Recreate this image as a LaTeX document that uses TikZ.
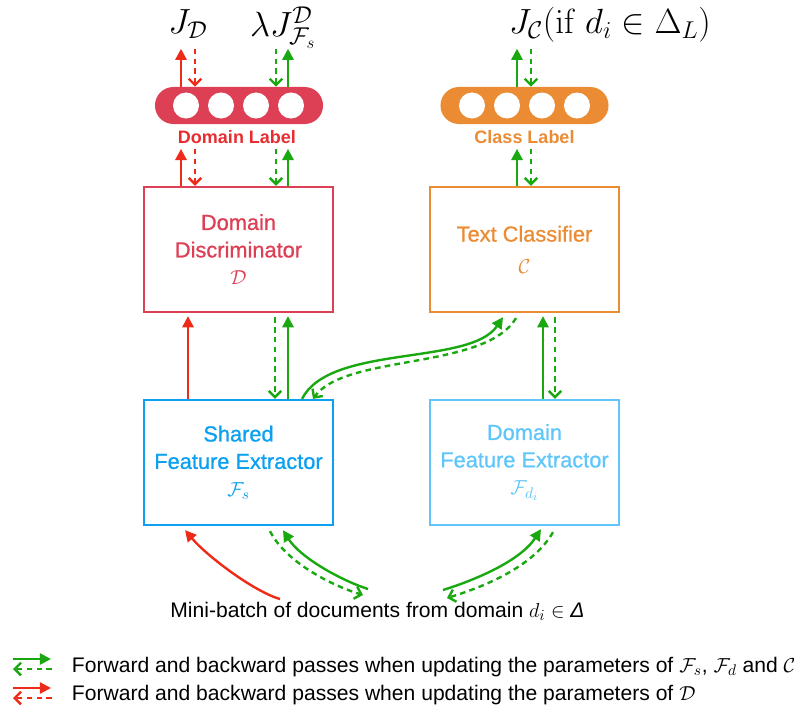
\documentclass[tikz,border=0pt]{standalone}
\usepackage[no-math]{fontspec}
\setmainfont{Liberation Sans}
\newfontfamily\modfont[FakeBold=0.9]{Liberation Sans}
\usetikzlibrary{arrows.meta,calc}

\definecolor{discred}{RGB}{221,64,85}
\definecolor{tagred}{RGB}{232,44,48}
\definecolor{passred}{RGB}{238,42,24}
\definecolor{clsorange}{RGB}{235,140,52}
\definecolor{passgreen}{RGB}{26,168,16}
\definecolor{sharedblue}{RGB}{12,160,240}
\definecolor{privblue}{RGB}{96,198,250}

\begin{document}
\begin{tikzpicture}[x=0.025cm, y=-0.025cm,
        module/.style={draw, line width=1.6pt, minimum width=4.725cm, minimum height=3.125cm,
            align=center, font=\modfont\fontsize{15.5}{19.5}\selectfont},
        pill/.style={rectangle, rounded corners=0.46cm, minimum width=4.2cm, minimum height=0.925cm},
        unit/.style={circle, fill=white, minimum size=0.65cm, inner sep=0pt},
        tag/.style={font=\bfseries\fontsize{12.8}{15}\selectfont},
        loss/.style={font=\fontsize{24}{28}\selectfont, anchor=base, inner sep=0.5pt},
        note/.style={font=\fontsize{15}{18}\selectfont, anchor=base west},
        fwd/.style={line width=1.7pt, -{Triangle[length=8pt,width=8pt]}},
        bwd/.style={line width=1.7pt, dash pattern=on 4pt off 3pt,
            -{Straight Barb[length=4.5pt,width=9pt]}}]
    \useasboundingbox (0,0) rectangle (794,710);

    % output layers
    \node[pill, fill=discred] (dlabel) at (239,105.5) {};
    \foreach \i in {1,...,4}
        \node[unit] (dl\i) at (151+35*\i,105.5) {};
    \node[tag, text=tagred] (dltag) at (237,137) {Domain Label};

    \node[pill, fill=clsorange] (clabel) at (524.5,105.5) {};
    \foreach \i in {1,...,4}
        \node[unit] (cl\i) at (437+35*\i,105.5) {};
    \node[tag, text=clsorange] (cltag) at (524.5,137) {Class Label};

    % losses
    \node[loss] (jd) at (188,33) {$J_{\mathcal{D}}$};
    \node[loss] (jfs) at (283,36) {$\lambda J^{\mathcal{D}}_{\mathcal{F}_s}$};
    \node[loss] (jc) at (610,33) {$J_{\mathcal{C}}(\mathrm{if}\ d_i\in\Delta_L)$};

    % modules
    \node[module, draw=discred, text=discred] (ddisc) at (238.5,249.5)
        {Domain\\Discriminator\\$\mathcal{D}$};
    \node[module, draw=clsorange, text=clsorange] (tcls) at (524.5,249.5)
        {Text Classifier\\[3pt]$\mathcal{C}$};
    \node[module, draw=sharedblue, text=sharedblue] (sfe) at (238.5,462.5)
        {Shared\\Feature Extractor\\$\mathcal{F}_s$};
    \node[module, draw=privblue, text=privblue] (dfe) at (524.5,462.5)
        {Domain\\Feature Extractor\\$\mathcal{F}_{d_i}$};

    \node[font=\fontsize{15}{18}\selectfont, anchor=base] (batch) at (377.5,617)
        {Mini-batch of documents from domain $d_i\in$ {\itshape Δ}};

    % losses <-> output layers
    \draw[fwd, passred] ($(dlabel.north)+(-58,0)$) -- ($(dlabel.north)+(-58,-38)$);
    \draw[bwd, passred] ($(dlabel.north)+(-44,-38)$) -- ($(dlabel.north)+(-44,0)$);
    \draw[bwd, passgreen] ($(dlabel.north)+(37,-38)$) -- ($(dlabel.north)+(37,0)$);
    \draw[fwd, passgreen] ($(dlabel.north)+(49,0)$) -- ($(dlabel.north)+(49,-38)$);
    \draw[fwd, passgreen] ($(clabel.north)+(-7.5,0)$) -- ($(clabel.north)+(-7.5,-38)$);
    \draw[bwd, passgreen] ($(clabel.north)+(6.5,-38)$) -- ($(clabel.north)+(6.5,0)$);

    % output layers <-> modules
    \draw[fwd, passred] ($(ddisc.north)+(-57.5,0)$) -- ($(ddisc.north)+(-57.5,-37)$);
    \draw[bwd, passred] ($(ddisc.north)+(-43.5,-37)$) -- ($(ddisc.north)+(-43.5,0)$);
    \draw[bwd, passgreen] ($(ddisc.north)+(37.5,-37)$) -- ($(ddisc.north)+(37.5,0)$);
    \draw[fwd, passgreen] ($(ddisc.north)+(49.5,0)$) -- ($(ddisc.north)+(49.5,-37)$);
    \draw[fwd, passgreen] ($(tcls.north)+(-7.5,0)$) -- ($(tcls.north)+(-7.5,-37)$);
    \draw[bwd, passgreen] ($(tcls.north)+(6.5,-37)$) -- ($(tcls.north)+(6.5,0)$);

    % feature extractors <-> discriminator and classifier
    \draw[fwd, passred] ($(sfe.north)+(-50.5,0)$) -- ($(ddisc.south)+(-50.5,3)$);
    \draw[bwd, passgreen] ($(ddisc.south)+(36.5,4)$) -- ($(sfe.north)+(36.5,0)$);
    \draw[fwd, passgreen] ($(sfe.north)+(49.5,0)$) -- ($(ddisc.south)+(49.5,3)$);
    \draw[fwd, passgreen] ($(dfe.north)+(18.5,0)$) -- ($(tcls.south)+(18.5,3)$);
    \draw[bwd, passgreen] ($(tcls.south)+(30.5,4)$) -- ($(dfe.north)+(30.5,0)$);
    \draw[fwd, passgreen] ($(sfe.north)+(63.5,0)$)
        .. controls +(28,-55) and +(-33,49) .. ($(tcls.south)+(-21.5,4)$);
    \draw[bwd, passgreen] ($(tcls.south)+(-8.5,5)$)
        .. controls +(-31,52) and +(32,-45) .. ($(sfe.north)+(74.5,0)$);

    % mini-batch -> feature extractors
    \draw[fwd, passred] ($(batch.base)+(-97.5,-18)$)
        .. controls +(-25,-7) and +(23,27) .. ($(sfe.south)+(-53.5,4)$);
    \draw[fwd, passgreen] ($(batch.base)+(-9.5,-28)$)
        .. controls +(-28,-9) and +(17,27) .. ($(sfe.south)+(44.5,4)$);
    \draw[bwd, passgreen] ($(sfe.south)+(31.5,5)$)
        .. controls +(15,30) and +(-33,-10) .. ($(batch.base)+(-14.5,-22)$);
    \draw[fwd, passgreen] ($(batch.base)+(65.5,-27)$)
        .. controls +(32,-10) and +(-21,32) .. ($(dfe.south)+(16.5,3)$);
    \draw[bwd, passgreen] ($(dfe.south)+(28.5,6)$)
        .. controls +(-18,32) and +(43,-13) .. ($(batch.base)+(69.5,-19)$);

    % legend
    \node[note] (leg1) at (67,672)
        {Forward and backward passes when updating the parameters of $\mathcal{F}_s$, $\mathcal{F}_d$ and $\mathcal{C}$};
    \node[note] (leg2) at (67,700)
        {Forward and backward passes when updating the parameters of $\mathcal{D}$};
    \draw[fwd, passgreen] ($(leg1.base west)+(-54,-13)$) -- ($(leg1.base west)+(-16,-13)$);
    \draw[bwd, passgreen] ($(leg1.base west)+(-15,-3)$) -- ($(leg1.base west)+(-54,-3)$);
    \draw[fwd, passred] ($(leg2.base west)+(-54,-12)$) -- ($(leg2.base west)+(-16,-12)$);
    \draw[bwd, passred] ($(leg2.base west)+(-15,-2)$) -- ($(leg2.base west)+(-54,-2)$);
\end{tikzpicture}
\end{document}
